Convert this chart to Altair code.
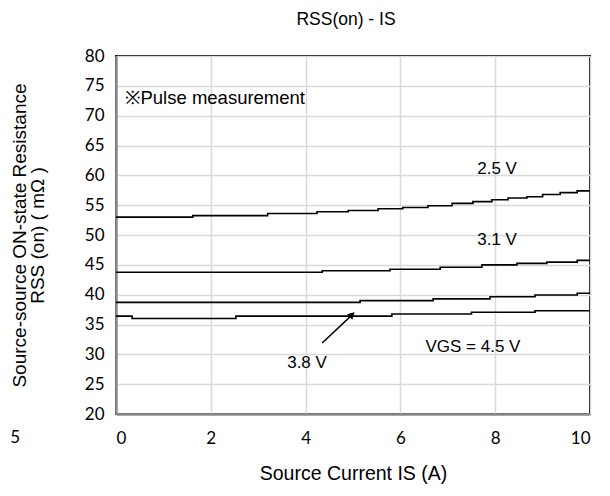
import altair as alt
import pandas as pd

# Step-like curves: x where each level starts, and the level value (mOhm)
x_25 = [0, 1.62, 3.2, 4.24, 4.9, 5.53, 6.05, 6.58, 7.09, 7.53, 7.93, 8.27, 8.67, 9.0, 9.37, 9.73, 10]
y_25 = [53.0, 53.25, 53.6, 53.9, 54.1, 54.4, 54.6, 54.9, 55.3, 55.6, 55.9, 56.2, 56.4, 56.8, 57.1, 57.4, 57.4]

x_31 = [0, 4.35, 5.78, 6.84, 7.72, 8.46, 9.09, 9.73, 10]
y_31 = [43.75, 44.0, 44.25, 44.6, 45.0, 45.25, 45.45, 45.75, 45.75]

x_38 = [0, 5.15, 6.69, 7.89, 8.84, 9.73, 10]
y_38 = [38.7, 39.0, 39.3, 39.65, 39.95, 40.25, 40.25]

x_45 = [0, 0.34, 2.53, 5.82, 7.5, 8.84, 10]
y_45 = [36.4, 36.0, 36.4, 36.75, 37.05, 37.3, 37.3]

series_names = ["2.5 V", "3.1 V", "3.8 V", "4.5 V"]

x_ticks = [0, 2, 4, 6, 8, 10]
y_ticks = [20, 25, 30, 35, 40, 45, 50, 55, 60, 65, 70, 75, 80]

note_text = ["※Pulse measurement"]
note_x = [0.2]
note_y = [73.0]

label_text = ["2.5 V", "3.1 V", "3.8 V", "VGS = 4.5 V"]
label_x = [8.04, 8.04, 4.03, 7.53]
label_y = [61.1, 49.2, 28.6, 31.2]

arrow_x = [4.35, 5.02]
arrow_y = [31.9, 36.9]

rows = []
for name, xs, ys in zip(series_names, [x_25, x_31, x_38, x_45], [y_25, y_31, y_38, y_45]):
    for a, b in zip(xs, ys):
        rows.append({"series": name, "IS": a, "RSS": b})
df = pd.DataFrame(rows)

notes = pd.DataFrame({"text": note_text, "x": note_x, "y": note_y})
labels = pd.DataFrame({"text": label_text, "x": label_x, "y": label_y})
arrow = pd.DataFrame({"x": [arrow_x[0]], "y": [arrow_y[0]], "x2": [arrow_x[1]], "y2": [arrow_y[1]]})
head = pd.DataFrame({"x": [arrow_x[1] - 0.04], "y": [arrow_y[1] - 0.25]})

TICK_FONT = "Lato"
TEXT_FONT = "Liberation Sans"

xscale = alt.Scale(domain=[0, 10], nice=False)
yscale = alt.Scale(domain=[20, 80], nice=False)

x_axis = alt.Axis(
    values=x_ticks, title="Source Current IS (A)", grid=True, gridColor="#d9d9d9", gridWidth=1.5,
    domainColor="#8c8c8c", domainWidth=2.5, ticks=False, labelFont=TICK_FONT, labelFontSize=17,
    labelFontWeight="normal", labelColor="black", labelPadding=16, labelOverlap=False,
    titleFont=TEXT_FONT, titleFontSize=19.5, titleFontWeight="normal", titleColor="black", titlePadding=18,
)
y_axis = alt.Axis(
    values=y_ticks, title=["Source-source ON-state  Resistance", "RSS (on)  ( mΩ )"], grid=True,
    gridColor="#d9d9d9", gridWidth=1.5, domainColor="#8c8c8c", domainWidth=2.5, ticks=False,
    labelFont=TICK_FONT, labelFontSize=17, labelFontWeight="normal", labelColor="black",
    labelPadding=12, labelOverlap=False,
    titleFont=TEXT_FONT, titleFontSize=19, titleFontWeight="normal", titleColor="black",
    titlePadding=37, titleLineHeight=17.5,
)


def X(f):
    return alt.X(f, scale=xscale, axis=x_axis)


def Y(f):
    return alt.Y(f, scale=yscale, axis=y_axis)


lines = alt.Chart(df).mark_line(color="black", strokeWidth=1.6, interpolate="step-after").encode(
    x=X("IS:Q"), y=Y("RSS:Q"), detail="series:N",
)

note_layer = alt.Chart(notes).mark_text(font=TEXT_FONT, fontSize=18.5, color="black", baseline="middle", align="left").encode(
    x=X("x:Q"), y=Y("y:Q"), text="text:N"
)
label_layer = alt.Chart(labels).mark_text(font=TEXT_FONT, fontSize=17, color="black", baseline="middle", align="center").encode(
    x=X("x:Q"), y=Y("y:Q"), text="text:N"
)

arrow_line = alt.Chart(arrow).mark_rule(color="black", strokeWidth=1.5).encode(
    x=X("x:Q"), y=Y("y:Q"), x2="x2:Q", y2="y2:Q"
)
arrow_head = alt.Chart(head).mark_point(shape="triangle-up", filled=True, color="black", size=60, angle=46, opacity=1).encode(
    x=X("x:Q"), y=Y("y:Q")
)

stray = alt.Chart(pd.DataFrame({"t": ["5"]})).mark_text(
    font=TICK_FONT, fontSize=17, color="black", align="right", baseline="middle"
).encode(x=alt.value(-96), y=alt.value(382), text="t:N")

chart = alt.layer(lines, note_layer, label_layer, arrow_line, arrow_head, stray).properties(
    width=474, height=358,
    title=alt.Title("RSS(on) - IS", font=TEXT_FONT, fontSize=17.5, fontWeight="normal", color="black", offset=19, dx=-7),
    autosize=alt.AutoSizeParams(type="none"),
    padding={"left": 108, "top": 48, "right": 12, "bottom": 70},
).configure_view(stroke="black", strokeWidth=2)

chart.save("out.html", embed_options={"renderer": "svg", "actions": False})
